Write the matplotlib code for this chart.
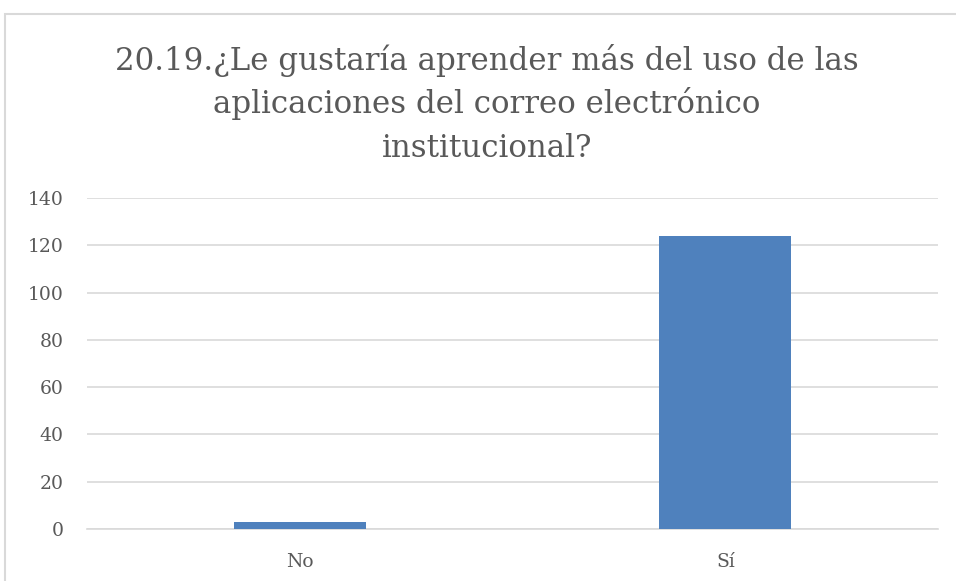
import matplotlib
matplotlib.use("Agg")
import matplotlib.pyplot as plt
from matplotlib.patches import Rectangle

categories = ["No", "Sí"]
values = [3, 124]
yticks = [0, 20, 40, 60, 80, 100, 120, 140]
title_lines = ["20.19.¿Le gustaría aprender más del uso de las",
               "aplicaciones del correo electrónico",
               "institucional?"]

W, H = 956, 581
fig = plt.figure(figsize=(W / 100, H / 100), dpi=100)
fig.patch.set_facecolor("white")
plt.rcParams['font.family'] = ['DejaVu Serif']

# outer border (only left/top visible)
fig.patches.append(Rectangle((4.5 / W, -0.1), 1.2, 1 - 13.5 / H + 0.1,
                             transform=fig.transFigure, fill=False,
                             edgecolor="#D9D9D9", linewidth=1.5))

ax = fig.add_axes([87 / W, 1 - 529 / H, (938 - 87) / W, (529 - 198) / H])
x = range(len(categories))
ax.bar(x, values, width=0.31, color="#4F81BD", zorder=3)
ax.set_xlim(-0.5, len(categories) - 0.5)
ax.set_ylim(0, 140)
ax.set_yticks(yticks)
ax.set_xticks(list(x))
ax.set_xticklabels(categories)
ax.yaxis.grid(True, color="#D9D9D9", linewidth=1.2, zorder=0)
ax.set_axisbelow(True)
for s in ["top", "right", "left"]:
    ax.spines[s].set_visible(False)
ax.spines["bottom"].set_color("#D9D9D9")
ax.spines["bottom"].set_linewidth(1.2)
ax.tick_params(axis="y", length=0, pad=17, labelsize=13.5, labelcolor="#595959")
ax.tick_params(axis="x", length=0, pad=17, labelsize=13.5, labelcolor="#595959")

baselines = [70, 113, 157]
for line, by in zip(title_lines, baselines):
    fig.text(487 / W, 1 - by / H, line, ha="center", va="baseline",
             fontsize=22.2, color="#595959")

fig.savefig("out.png", dpi=100)
